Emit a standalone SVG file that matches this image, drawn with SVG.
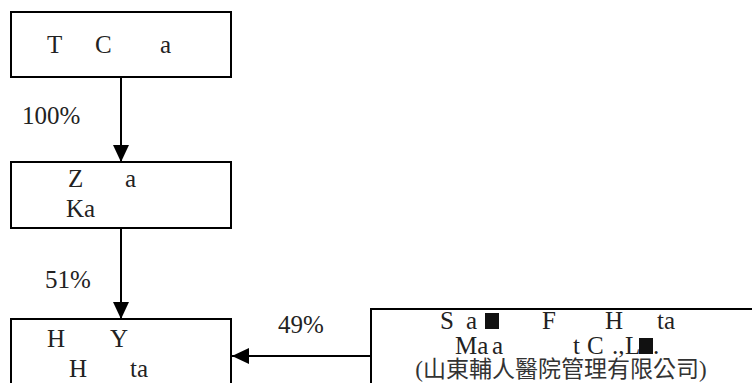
<svg xmlns="http://www.w3.org/2000/svg" width="752" height="383" viewBox="0 0 752 383">
<style>
.box{fill:#fff;stroke:#000;stroke-width:2}
.ln{stroke:#000;stroke-width:2;fill:none}
text{font-family:'Liberation Serif',serif;font-size:25px;fill:#222}
</style>
<defs>
<marker id="ah" markerUnits="userSpaceOnUse" markerWidth="17" markerHeight="16" refX="17" refY="8" orient="auto">
<path d="M0,0 L17,8 L0,16 Z" fill="#000"/>
</marker>
</defs>
<rect width="752" height="383" fill="#fff"/>
<g id="connectors">
<line class="ln" x1="121" y1="77" x2="121" y2="162" marker-end="url(#ah)"/>
<line class="ln" x1="121" y1="228" x2="121" y2="319" marker-end="url(#ah)"/>
<line class="ln" x1="371" y1="356" x2="232" y2="356" marker-end="url(#ah)"/>
<text x="22" y="124" font-family="Liberation Serif, serif">100%</text>
<text x="45" y="288" font-family="Liberation Serif, serif">51%</text>
<text x="278" y="333" font-family="Liberation Serif, serif">49%</text>
</g>
<g id="node1">
<rect class="box" x="11" y="12" width="220" height="65"/>
<text y="53" font-family="Liberation Serif, serif"><tspan x="47">T</tspan><tspan x="95">C</tspan><tspan x="160">a</tspan></text>
</g>
<g id="node2">
<rect class="box" x="11" y="162" width="220" height="66"/>
<text y="187" font-family="Liberation Serif, serif"><tspan x="68">Z</tspan><tspan x="125">a</tspan></text>
<text y="217" x="66" font-family="Liberation Serif, serif">Ka</text>
</g>
<g id="node3">
<rect class="box" x="11" y="319" width="220" height="80"/>
<text y="347" font-family="Liberation Serif, serif"><tspan x="47">H</tspan><tspan x="110">Y</tspan></text>
<text y="377" font-family="Liberation Serif, serif"><tspan x="69">H</tspan><tspan x="130">ta</tspan></text>
</g>
<g id="node4">
<rect class="box" x="371" y="309" width="400" height="90"/>
<text y="329" font-family="Liberation Serif, serif"><tspan x="440">S</tspan><tspan x="466">a</tspan><tspan x="542">F</tspan><tspan x="605">H</tspan><tspan x="657">ta</tspan></text>
<rect x="485" y="313" width="14" height="16" fill="#111"/>
<text y="354" font-family="Liberation Serif, serif"><tspan x="455">Ma</tspan><tspan x="492">a</tspan><tspan x="573">t</tspan><tspan x="587">C</tspan><tspan x="612">.,</tspan><tspan x="625">L</tspan><tspan x="653">.</tspan></text>
<rect x="639" y="338" width="14" height="16" fill="#111"/>
<text x="561" y="377" text-anchor="middle" style="font-family:'Liberation Serif','Noto Sans CJK TC',sans-serif;font-size:23px;fill:#333">(山東輔人醫院管理有限公司)</text>
</g>
</svg>
